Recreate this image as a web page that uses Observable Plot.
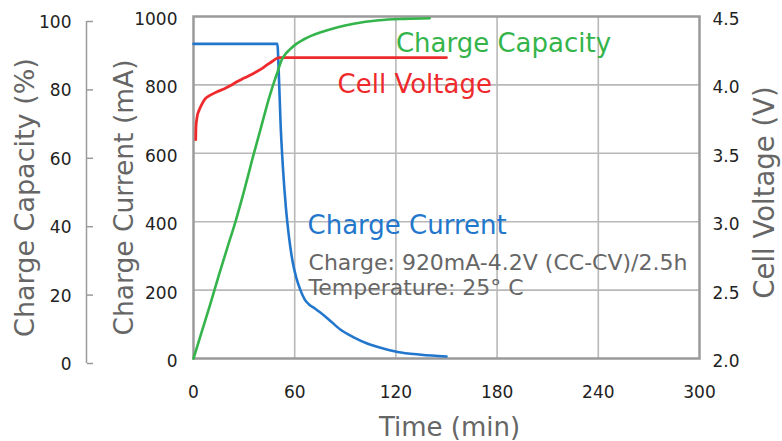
<!DOCTYPE html>
<html><head><meta charset="utf-8">
<script src="https://cdn.jsdelivr.net/npm/d3@7"></script>
<script src="https://cdn.jsdelivr.net/npm/@observablehq/plot@0.6"></script>
<style>
html,body{margin:0;padding:0;background:#fff;}
#chart{width:782px;height:441px;}
</style>
</head><body><div id="chart"></div>
<script>
// ---- tick labels ----
const timeTicks = [0, 60, 120, 180, 240, 300];
const currentTicks = [0, 200, 400, 600, 800, 1000];
const capacityTicks = [0, 20, 40, 60, 80, 100];
const voltageTicks = [2.0, 2.5, 3.0, 3.5, 4.0, 4.5];

// ---- series values ----
const currentTime = [0, 49.7, 50.6, 51.6, 53, 54.8, 56.5, 58.7, 61, 63.4, 66, 68.5, 72, 75, 80, 87, 95, 103, 112, 121, 135, 150];
const currentMA   = [920, 920, 830, 690, 560, 440, 360, 285, 235, 200, 172, 158, 146, 135, 115, 85, 62, 44, 30, 19, 11, 6];

const capacityTime = [0, 5, 10, 15, 20, 25, 30, 35, 40, 45, 48, 50, 52, 54, 57, 61, 65, 70, 75, 85, 95, 110, 125, 140];
const capacityPct  = [0, 8, 16, 24.3, 32.3, 40.2, 49, 58.5, 67.5, 76.5, 81.2, 84, 87, 88.7, 90.3, 92, 93.2, 94.4, 95.3, 96.8, 97.9, 98.9, 99.3, 99.5];

const voltageTime = [1.3, 1.5, 2.2, 3.5, 5, 7, 10, 14, 18, 22, 26, 30, 35, 40, 44, 47, 49.5, 51, 150];
const voltageV    = [3.6, 3.7, 3.77, 3.82, 3.86, 3.9, 3.925, 3.95, 3.97, 3.995, 4.025, 4.05, 4.08, 4.115, 4.15, 4.175, 4.195, 4.2, 4.2];

// ---- text ----
const seriesNames = ["Charge Capacity", "Cell Voltage", "Charge Current"];
const noteLines = ["Charge: 920mA-4.2V (CC-CV)/2.5h", "Temperature: 25° C"];
const titles = {x: "Time (min)", cap: "Charge Capacity (%)", cur: "Charge Current (mA)", volt: "Cell Voltage (V)"};

// ---- mapping secondary units onto the current (mA) scale ----
const V_MIN = 2, V_MAX = 4.5, I_MAX = 1000, C_MAX = 100;
const capToY = c => c / C_MAX * I_MAX;
const voltToY = v => (v - V_MIN) / (V_MAX - V_MIN) * I_MAX;
const yToVolt = y => V_MIN + y / I_MAX * (V_MAX - V_MIN);

const current = currentTime.map((t, i) => ({t, y: currentMA[i]}));
const capacity = capacityTime.map((t, i) => ({t, y: capToY(capacityPct[i])}));
const voltage = voltageTime.map((t, i) => ({t, y: voltToY(voltageV[i])}));

const GREEN = "#34b44b", RED = "#ee2a2d", BLUE = "#2277cc";
const GRAY = "#666", GRID = "#b8b8b8", FRAME = "#9a9a9a", TICK = "#222";

// annotation anchors (time, mA units)
const seriesLabels = [
  {t: 120, y: 922, s: seriesNames[0], c: GREEN},
  {t: 85.4, y: 800, s: seriesNames[1], c: RED},
  {t: 67.6, y: 389, s: seriesNames[2], c: BLUE}
];
const noteRows = [
  {t: 68.2, y: 279, s: noteLines[0]},
  {t: 68.2, y: 206, s: noteLines[1]}
];

const labelMarks = seriesLabels.map(d => Plot.text([d], {x: "t", y: "y", text: "s", textAnchor: "start", fontSize: 26, fill: d.c, ariaLabel: "series-label"}));
const noteMark = Plot.text(noteRows, {x: "t", y: "y", text: "s", textAnchor: "start", fontSize: 22, fill: GRAY, ariaLabel: "note"});

const chart = Plot.plot({
  width: 782, height: 441,
  marginLeft: 193, marginRight: 83, marginTop: 16, marginBottom: 83,
  x: {domain: [0, 300], label: null},
  y: {domain: [0, 1000], label: null},
  style: {fontFamily: "DejaVu Sans", fontSize: "17px", background: "white"},
  marks: [
    Plot.gridX(timeTicks.slice(1, -1), {stroke: GRID, strokeOpacity: 1, strokeWidth: 1.6}),
    Plot.gridY(currentTicks.slice(1, -1), {stroke: GRID, strokeOpacity: 1, strokeWidth: 1.6}),
    ...labelMarks,
    noteMark,
    Plot.frame({stroke: FRAME, strokeWidth: 2.5}),
    Plot.line(current, {x: "t", y: "y", stroke: BLUE, strokeWidth: 2.6, curve: "monotone-x"}),
    Plot.line(voltage, {x: "t", y: "y", stroke: RED, strokeWidth: 2.8, curve: "monotone-x"}),
    Plot.line(capacity, {x: "t", y: "y", stroke: GREEN, strokeWidth: 2.6, curve: "monotone-x"}),
    // axes
    Plot.axisX(timeTicks, {anchor: "bottom", tickSize: 0, tickPadding: 27, fontSize: 17, color: TICK, label: null, tickFormat: d => String(d)}),
    Plot.axisY(currentTicks, {anchor: "left", tickSize: 0, tickPadding: 16, dy: 3, fontSize: 17, color: TICK, label: null, tickFormat: d => String(d)}),
    Plot.axisY(voltageTicks.map(voltToY), {anchor: "right", tickSize: 0, tickPadding: 13, dy: 3, fontSize: 17, color: TICK, label: null, tickFormat: y => yToVolt(y).toFixed(1)}),
    Plot.axisY(capacityTicks.map(capToY), {anchor: "left", dx: -107, dy: 6, tickSize: 0, tickPadding: 15, fontSize: 17, color: TICK, label: null, tickFormat: y => String(Math.round(y / I_MAX * C_MAX))}),
    Plot.axisY(capacityTicks.map(capToY), {anchor: "right", dx: -613, dy: 5, tickSize: 6, tickPadding: 0, color: FRAME, strokeWidth: 1.5, label: null, tickFormat: () => ""}),
    Plot.ruleX([0], {y1: 0, y2: I_MAX, dx: -107, dy: 5, stroke: FRAME, strokeWidth: 1.5}),
    // titles
    Plot.text([titles.cap], {text: d => d, frameAnchor: "left", textAnchor: "middle", dx: 25 - 193, dy: 10, rotate: -90, fontSize: 27, fill: GRAY, lineAnchor: "middle"}),
    Plot.text([titles.cur], {text: d => d, frameAnchor: "left", textAnchor: "middle", dx: 124 - 193, dy: 10, rotate: -90, fontSize: 26.5, fill: GRAY, lineAnchor: "middle"}),
    Plot.text([titles.volt], {text: d => d, frameAnchor: "right", textAnchor: "middle", dx: 765 - 699, dy: 5, rotate: -90, fontSize: 27.5, fill: GRAY, lineAnchor: "middle"}),
    Plot.text([titles.x], {text: d => d, frameAnchor: "bottom", textAnchor: "middle", dx: 3, dy: 69, fontSize: 26, fill: GRAY, lineAnchor: "middle"})
  ]
});
document.getElementById("chart").appendChild(chart);

// white boxes behind the in-plot labels (the gridlines are interrupted there, as in the original)
(function () {
  const NS = "http://www.w3.org/2000/svg";
  const base = chart.getBoundingClientRect();
  const groups = [...chart.querySelectorAll('g[aria-label="series-label"]'), ...chart.querySelectorAll('g[aria-label="note"]')];
  if (!groups.length) return;
  const anchor = groups[0];
  function box(g, pad) {
    let x0 = Infinity, y0 = Infinity, x1 = -Infinity, y1 = -Infinity;
    g.querySelectorAll("text").forEach(t => {
      const r = t.getBoundingClientRect();
      x0 = Math.min(x0, r.left - base.left); y0 = Math.min(y0, r.top - base.top);
      x1 = Math.max(x1, r.right - base.left); y1 = Math.max(y1, r.bottom - base.top);
    });
    const rect = document.createElementNS(NS, "rect");
    rect.setAttribute("x", x0 - pad[3]);
    rect.setAttribute("y", y0 - pad[0]);
    rect.setAttribute("width", x1 - x0 + pad[1] + pad[3]);
    rect.setAttribute("height", y1 - y0 + pad[0] + pad[2]);
    rect.setAttribute("fill", "white");
    anchor.parentNode.insertBefore(rect, anchor);
  }
  groups.forEach(g => box(g, g.getAttribute("aria-label") === "note" ? [1, -6, 2, 10] : [1, 14, 1, 9]));
})();
</script></body></html>
